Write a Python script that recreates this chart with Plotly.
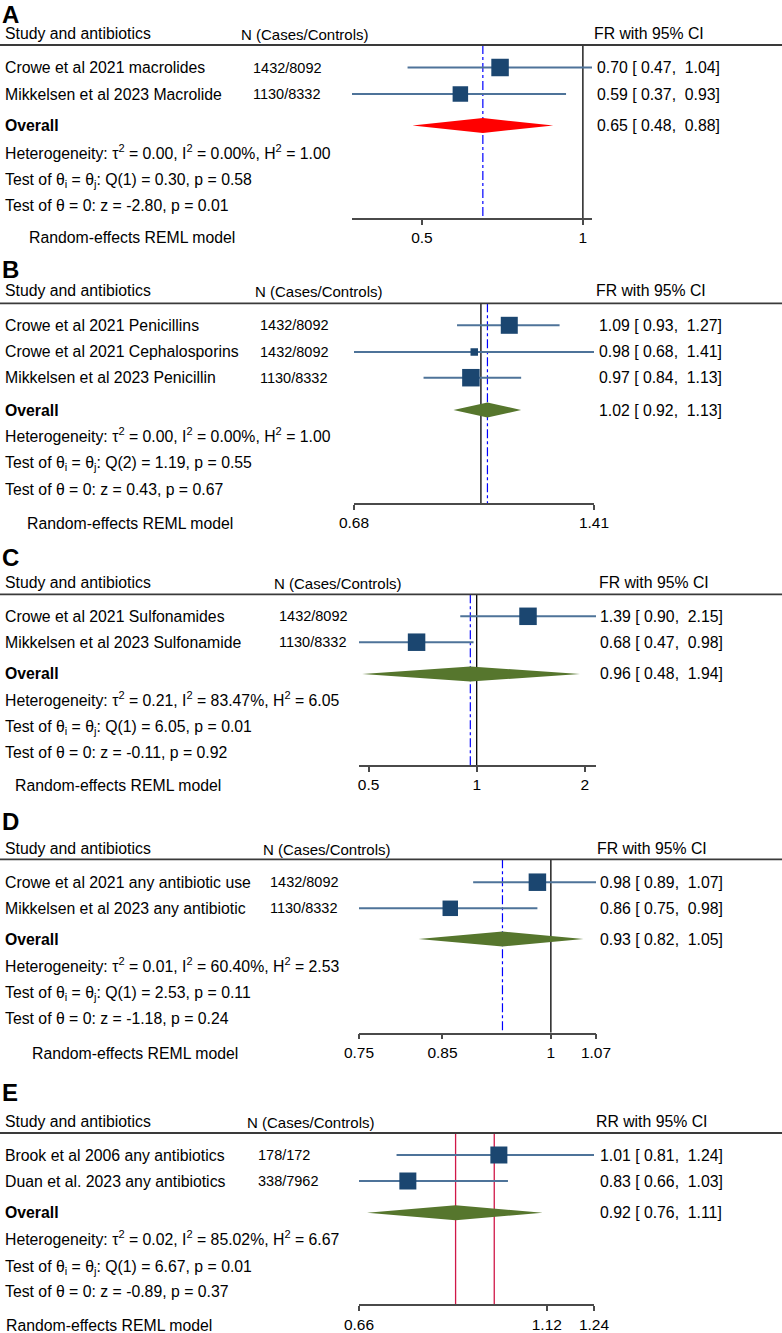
import math
import plotly.graph_objects as go

W, H = 782, 1333
FONT = "Liberation Sans, Arial, sans-serif"

# ---------------- data ----------------
A_studies = ["Crowe et al 2021 macrolides", "Mikkelsen et al 2023 Macrolide"]
A_n = ["1432/8092", "1130/8332"]
A_est = [0.70, 0.59]
A_lo = [0.47, 0.37]
A_hi = [1.04, 0.93]
A_overall = [0.65, 0.48, 0.88]
A_het = ["0.00", "0.00", "1.00"]
A_q = ["1", "0.30", "0.58"]
A_z = ["-2.80", "0.01"]
A_ticks = [0.5, 1]
A_ticklabels = ["0.5", "1"]
A_range = [0.37, 1.04]

B_studies = ["Crowe et al 2021 Penicillins", "Crowe et al 2021 Cephalosporins", "Mikkelsen et al 2023 Penicillin"]
B_n = ["1432/8092", "1432/8092", "1130/8332"]
B_est = [1.09, 0.98, 0.97]
B_lo = [0.93, 0.68, 0.84]
B_hi = [1.27, 1.41, 1.13]
B_overall = [1.02, 0.92, 1.13]
B_het = ["0.00", "0.00", "1.00"]
B_q = ["2", "1.19", "0.55"]
B_z = ["0.43", "0.67"]
B_ticks = [0.68, 1.41]
B_ticklabels = ["0.68", "1.41"]
B_range = [0.68, 1.41]

C_studies = ["Crowe et al 2021 Sulfonamides", "Mikkelsen et al 2023 Sulfonamide"]
C_n = ["1432/8092", "1130/8332"]
C_est = [1.39, 0.68]
C_lo = [0.90, 0.47]
C_hi = [2.15, 0.98]
C_overall = [0.96, 0.48, 1.94]
C_het = ["0.21", "83.47", "6.05"]
C_q = ["1", "6.05", "0.01"]
C_z = ["-0.11", "0.92"]
C_ticks = [0.5, 1, 2]
C_ticklabels = ["0.5", "1", "2"]
C_range = [0.47, 2.15]

D_studies = ["Crowe et al 2021 any antibiotic use", "Mikkelsen et al 2023 any antibiotic"]
D_n = ["1432/8092", "1130/8332"]
D_est = [0.98, 0.86]
D_lo = [0.89, 0.75]
D_hi = [1.07, 0.98]
D_overall = [0.93, 0.82, 1.05]
D_het = ["0.01", "60.40", "2.53"]
D_q = ["1", "2.53", "0.11"]
D_z = ["-1.18", "0.24"]
D_ticks = [0.75, 0.85, 1, 1.07]
D_ticklabels = ["0.75", "0.85", "1", "1.07"]
D_range = [0.75, 1.07]

E_studies = ["Brook et al 2006 any antibiotics", "Duan et al. 2023 any antibiotics"]
E_n = ["178/172", "338/7962"]
E_est = [1.01, 0.83]
E_lo = [0.81, 0.66]
E_hi = [1.24, 1.03]
E_overall = [0.92, 0.76, 1.11]
E_het = ["0.02", "85.02", "6.67"]
E_q = ["1", "6.67", "0.01"]
E_z = ["-0.89", "0.37"]
# as in the reference, the "0.66" label sits at the left end of the drawn axis
E_ticks = [0.747, 1.12, 1.24]
E_ticklabels = ["0.66", "1.12", "1.24"]
E_range = [0.747, 1.24]

# ---------------- layout config (pixel positions) ----------------
panels = [
    dict(letter="A", studies=A_studies, n=A_n, est=A_est, lo=A_lo, hi=A_hi, ov=A_overall,
         het=A_het, q=A_q, z=A_z, ticks=A_ticks, ticklabels=A_ticklabels, rng=A_range,
         eff="FR with 95% CI", diamond="#FF0000", sizes=[17.5, 15.5], style="std",
         letter_y=14, header_y=33, hline_y=45, rows=[67.5, 94], ov_y=125.5,
         stats_y=[154, 179.5, 205], axis_y=218, reml_y=238,
         n_hdr_x=240, n_x=252, eff_x=593, val_x=597, reml_x=28, dom=[352, 592]),
    dict(letter="B", studies=B_studies, n=B_n, est=B_est, lo=B_lo, hi=B_hi, ov=B_overall,
         het=B_het, q=B_q, z=B_z, ticks=B_ticks, ticklabels=B_ticklabels, rng=B_range,
         eff="FR with 95% CI", diamond="#56762D", sizes=[17, 7.5, 17.5], style="std",
         letter_y=269, header_y=291, hline_y=303.3, rows=[325.3, 352, 377.7], ov_y=410,
         stats_y=[437, 463, 489], axis_y=503, reml_y=523,
         n_hdr_x=254, n_x=259, eff_x=595, val_x=599, reml_x=26, dom=[354, 594]),
    dict(letter="C", studies=C_studies, n=C_n, est=C_est, lo=C_lo, hi=C_hi, ov=C_overall,
         het=C_het, q=C_q, z=C_z, ticks=C_ticks, ticklabels=C_ticklabels, rng=C_range,
         eff="FR with 95% CI", diamond="#56762D", sizes=[17.5, 17.5], style="std",
         letter_y=557.5, header_y=583, hline_y=594.3, rows=[616.3, 642.2], ov_y=674,
         stats_y=[700.7, 726.7, 752.3], axis_y=765, reml_y=785,
         n_hdr_x=273, n_x=278, eff_x=598, val_x=600, reml_x=14, dom=[359, 596]),
    dict(letter="D", studies=D_studies, n=D_n, est=D_est, lo=D_lo, hi=D_hi, ov=D_overall,
         het=D_het, q=D_q, z=D_z, ticks=D_ticks, ticklabels=D_ticklabels, rng=D_range,
         eff="FR with 95% CI", diamond="#56762D", sizes=[17.5, 15.5], style="std",
         letter_y=821, header_y=848.3, hline_y=859.3, rows=[882.2, 908.3], ov_y=939,
         stats_y=[966.7, 992.7, 1018.3], axis_y=1032.7, reml_y=1053.3,
         n_hdr_x=262, n_x=269, eff_x=596, val_x=600, reml_x=31, dom=[359, 596]),
    dict(letter="E", studies=E_studies, n=E_n, est=E_est, lo=E_lo, hi=E_hi, ov=E_overall,
         het=E_het, q=E_q, z=E_z, ticks=E_ticks, ticklabels=E_ticklabels, rng=E_range,
         eff="RR with 95% CI", diamond="#56762D", sizes=[17, 17], style="red",
         letter_y=1092, header_y=1121.7, hline_y=1133, rows=[1155, 1181], ov_y=1212.7,
         stats_y=[1240, 1266, 1291.7], axis_y=1304.3, reml_y=1325,
         n_hdr_x=246, n_x=257, eff_x=595, val_x=600, reml_x=5, dom=[359, 594]),
]

SQ_COLOR = "#1B4670"
CI_COLOR = "#4E7399"
FS = 15.8

fig = go.Figure()
annotations = []
shapes = []


def ann(text, x, y, size=FS, xanchor="left"):
    return dict(text=text, x=x / W, y=1 - y / H, xref="paper", yref="paper",
                xanchor=xanchor, yanchor="middle", showarrow=False,
                font=dict(size=size, color="black", family=FONT))


def fmt_ci(e, l, h):
    return f"{e:.2f} [ {l:.2f},\u00a0\u00a0{h:.2f}]"


layout_axes = {}
for i, p in enumerate(panels):
    sfx = "" if i == 0 else str(i + 1)
    xname, yname = "x" + sfx, "y" + sfx
    top_px = p["hline_y"] - 5
    layout_axes["xaxis" + sfx] = dict(
        type="log", range=[math.log10(p["rng"][0]), math.log10(p["rng"][1])],
        domain=[p["dom"][0] / W, p["dom"][1] / W], anchor=yname,
        showline=True, linecolor="#4a4a4a", linewidth=1.5,
        ticks="outside", ticklen=5, tickwidth=1.5, tickcolor="#4a4a4a",
        tickvals=p["ticks"], ticktext=p["ticklabels"], showgrid=False, zeroline=False,
        tickfont=dict(size=15.5, color="black", family=FONT), fixedrange=True, automargin=False,
    )
    layout_axes["yaxis" + sfx] = dict(
        range=[p["axis_y"], top_px], domain=[1 - p["axis_y"] / H, 1 - top_px / H],
        anchor=xname, visible=False, fixedrange=True, showgrid=False, zeroline=False,
    )

    top, bot = p["hline_y"], p["axis_y"]
    # reference lines
    if p["style"] == "std":
        fig.add_trace(go.Scatter(x=[1, 1], y=[top, bot], mode="lines", xaxis=xname, yaxis=yname,
                                 line=dict(color="black", width=1.3), hoverinfo="skip"))
        fig.add_trace(go.Scatter(x=[p["ov"][0]] * 2, y=[top, bot], mode="lines", xaxis=xname, yaxis=yname,
                                 line=dict(color="#0000FF", width=1.2, dash="dashdot"), hoverinfo="skip"))
    else:
        for v in [p["ov"][0], 1]:
            fig.add_trace(go.Scatter(x=[v, v], y=[top, bot], mode="lines", xaxis=xname, yaxis=yname,
                                     line=dict(color="#D01848", width=1.3), hoverinfo="skip"))

    # CI lines
    cx, cy = [], []
    for l, h, ry in zip(p["lo"], p["hi"], p["rows"]):
        cx += [l, h, None]
        cy += [ry, ry, None]
    fig.add_trace(go.Scatter(x=cx, y=cy, mode="lines", xaxis=xname, yaxis=yname,
                             line=dict(color=CI_COLOR, width=2), hoverinfo="skip"))
    # squares
    fig.add_trace(go.Scatter(x=p["est"], y=p["rows"], mode="markers", xaxis=xname, yaxis=yname,
                             marker=dict(symbol="square", size=p["sizes"], color=SQ_COLOR, opacity=1,
                                         line=dict(width=0)), cliponaxis=False, hoverinfo="skip"))
    # overall diamond
    e, l, h = p["ov"]
    oy = p["ov_y"]
    fig.add_trace(go.Scatter(x=[l, e, h, e, l], y=[oy, oy - 7.5, oy, oy + 7.5, oy], mode="lines",
                             fill="toself", fillcolor=p["diamond"], line=dict(width=0, color=p["diamond"]),
                             xaxis=xname, yaxis=yname, hoverinfo="skip"))

    # header rule
    shapes.append(dict(type="line", xref="paper", yref="paper", x0=0, x1=1,
                       y0=1 - p["hline_y"] / H, y1=1 - p["hline_y"] / H,
                       line=dict(color="#3a3a3a", width=1.8)))

    # texts
    annotations.append(ann(f"<b>{p['letter']}</b>", 0, p["letter_y"], size=24))
    annotations.append(ann("Study and antibiotics", 3, p["header_y"]))
    annotations.append(ann("N (Cases/Controls)", p["n_hdr_x"] - 1, p["header_y"] + 1, size=15))
    annotations.append(ann(p["eff"], p["eff_x"] - 1, p["header_y"]))
    for s, nn, ee, ll, hh, ry in zip(p["studies"], p["n"], p["est"], p["lo"], p["hi"], p["rows"]):
        annotations.append(ann(s, 3, ry))
        annotations.append(ann(nn, p["n_x"] - 1, ry, size=14.5))
        annotations.append(ann(fmt_ci(ee, ll, hh), p["val_x"] - 2, ry))
    annotations.append(ann("<b>Overall</b>", 3, oy))
    annotations.append(ann(fmt_ci(e, l, h), p["val_x"] - 2, oy))
    t2, i2, h2 = p["het"]
    annotations.append(ann(f"Heterogeneity: τ<sup>2</sup> = {t2}, I<sup>2</sup> = {i2}%, H<sup>2</sup> = {h2}",
                           3, p["stats_y"][0] - 2))
    qd, qv, qp = p["q"]
    annotations.append(ann(f"Test of θ<sub>i</sub> = θ<sub>j</sub>: Q({qd}) = {qv}, p = {qp}", 3, p["stats_y"][1] + 1))
    zv, zp = p["z"]
    annotations.append(ann(f"Test of θ = 0: z = {zv}, p = {zp}", 3, p["stats_y"][2]))
    annotations.append(ann("Random-effects REML model", p["reml_x"] - 1, p["reml_y"]))

fig.update_layout(
    width=W, height=H, margin=dict(l=0, r=0, t=0, b=0),
    paper_bgcolor="white", plot_bgcolor="white", showlegend=False,
    template="none", font=dict(family=FONT, color="black"),
    annotations=annotations, shapes=shapes,
    **layout_axes,
)

fig.write_html("out.html", config={"displayModeBar": False},
               post_script="document.body.style.margin='0';")
